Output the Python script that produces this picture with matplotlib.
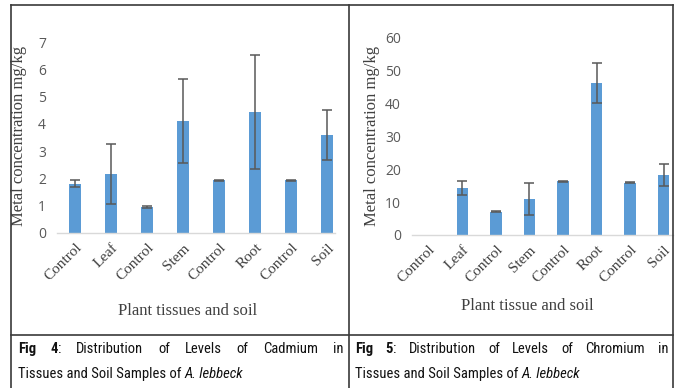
import matplotlib
matplotlib.use("Agg")
import matplotlib.pyplot as plt
from matplotlib import font_manager
from matplotlib.lines import Line2D

# ---- data ----
categories = ["Control", "Leaf", "Control", "Stem", "Control", "Root", "Control", "Soil"]

cadmium_mean = [1.81, 2.15, 0.96, 4.11, 1.93, 4.43, 1.93, 3.60]
cadmium_err = [0.14, 1.10, 0.03, 1.53, 0.03, 2.10, 0.03, 0.91]

chromium_mean = [0.0, 14.2, 7.1, 11.0, 16.3, 46.1, 15.9, 18.2]
chromium_err = [0.0, 2.2, 0.2, 4.8, 0.2, 6.1, 0.2, 3.2]

cadmium_ticks = [0, 1, 2, 3, 4, 5, 6, 7]
chromium_ticks = [0, 10, 20, 30, 40, 50, 60]

# ---- style ----
W, H = 678, 388
DPI = 100
BAR = "#5B9BD5"
ERR = "#595959"
AXIS = "#D9D9D9"
TICK = "#595959"
SERIF = "Liberation Serif"
SANS = "Open Sans"


def narrow_font():
    """Return FontProperties kwargs for the narrowest sans face available."""
    options = [
        dict(family="Liberation Sans Narrow"),
        dict(family="Arial Narrow"),
        dict(family="Roboto Condensed"),
        dict(family="Noto Sans", stretch="condensed"),
        dict(family="Open Sans", stretch="condensed"),
        dict(family="DejaVu Sans", stretch="condensed"),
    ]
    for opt in options:
        try:
            path = font_manager.findfont(font_manager.FontProperties(**opt),
                                         fallback_to_default=False)
        except Exception:
            continue
        name = path.lower()
        if "narrow" in name or "condensed" in name or "cond" in name:
            return opt
    return dict(family="Roboto")


NARROW = narrow_font()

fig = plt.figure(figsize=(W / DPI, H / DPI), dpi=DPI)


def px_axes(x0, x1, y0, y1):
    # y0 = bottom pixel row (from top), y1 = top pixel row (from top)
    return fig.add_axes([x0 / W, (H - y0) / H, (x1 - x0) / W, (y0 - y1) / H])


def bar_panel(ax, means, errs, ticks, xmax):
    x = list(range(len(categories)))
    ax.bar(x, means, width=0.34, color=BAR, zorder=2)
    shown = [i for i in x if errs[i] > 0]
    ax.errorbar([x[i] for i in shown], [means[i] for i in shown],
                yerr=[errs[i] for i in shown], fmt="none", ecolor=ERR,
                elinewidth=1.1, capsize=3.5, capthick=1.1, zorder=3)
    ax.set_xlim(-0.5, xmax)
    ax.set_ylim(ticks[0], ticks[-1])
    ax.set_yticks(ticks)
    ax.set_yticklabels([str(t) for t in ticks], fontfamily=SANS, fontsize=10,
                       color=TICK)
    ax.set_xticks(x)
    ax.set_xticklabels(categories, rotation=45, ha="right", va="top",
                       rotation_mode="anchor", fontfamily=SERIF, fontsize=11,
                       color="#404040")
    ax.tick_params(axis="both", length=0)
    ax.tick_params(axis="y", pad=8)
    ax.tick_params(axis="x", pad=6)
    for s in ("top", "right", "left"):
        ax.spines[s].set_visible(False)
    ax.spines["bottom"].set_color(AXIS)
    ax.spines["bottom"].set_linewidth(1.0)
    ax.patch.set_visible(False)


# Cadmium panel
ax1 = px_axes(57, 335, 233, 42)
bar_panel(ax1, cadmium_mean, cadmium_err, cadmium_ticks, 7.22)
fig.text(19 / W, 1 - 136 / H, "Metal concentration mg/kg", rotation=90,
         ha="center", va="center", fontfamily=SERIF, fontsize=12,
         color="#404040")
fig.text(188 / W, 1 - 311 / H, "Plant tissues and soil", ha="center",
         va="center", fontfamily=SERIF, fontsize=12, color="#404040")

# Chromium panel
ax2 = px_axes(412, 673, 235, 37)
bar_panel(ax2, chromium_mean, chromium_err, chromium_ticks, 7.28)
fig.text(372 / W, 1 - 136 / H, "Metal concentration mg/kg", rotation=90,
         ha="center", va="center", fontfamily=SERIF, fontsize=12,
         color="#404040")
fig.text(527 / W, 1 - 306 / H, "Plant tissue and soil", ha="center",
         va="center", fontfamily=SERIF, fontsize=12, color="#404040")

# ---- table frame ----
FRAME = "#3a3a3a"


def hline(y, x0, x1):
    fig.add_artist(Line2D([x0 / W, x1 / W], [1 - y / H, 1 - y / H],
                          transform=fig.transFigure, color=FRAME, lw=1.2))


def vline(x, y0, y1):
    fig.add_artist(Line2D([x / W, x / W], [1 - y0 / H, 1 - y1 / H],
                          transform=fig.transFigure, color=FRAME, lw=1.2))


hline(5, 11, 673)
hline(335, 11, 673)
vline(11, 5, 388)
vline(348.5, 5, 388)
vline(673, 5, 388)

# ---- captions ----
renderer = fig.canvas.get_renderer()
CAP_SIZE = 10.5


def make_text(x, y, text, weight, style):
    return fig.text(x, y, text, fontsize=CAP_SIZE, fontweight=weight,
                    fontstyle=style, ha="left", va="baseline",
                    color="#111111", **NARROW)


def piece_width(text, weight="normal", style="normal"):
    t = make_text(0, 0, text, weight, style)
    w = t.get_window_extent(renderer).width
    t.remove()
    return w


def draw_pieces(x, y, pieces):
    for text, weight, style in pieces:
        make_text(x / W, 1 - y / H, text, weight, style)
        x += piece_width(text, weight, style)
    return x


def justified_line(x0, x1, y, tokens):
    widths = [sum(piece_width(*p) for p in tok) for tok in tokens]
    gap = (x1 - x0 - sum(widths)) / (len(tokens) - 1)
    x = x0
    for tok, w in zip(tokens, widths):
        draw_pieces(x, y, tok)
        x += w + gap


def caption(x0, x1, num, metal):
    n = "normal"
    tokens = [[("Fig", "bold", n)], [(num, "bold", n), (":", n, n)],
              [("Distribution", n, n)], [("of", n, n)], [("Levels", n, n)],
              [("of", n, n)], [(metal, n, n)], [("in", n, n)]]
    justified_line(x0, x1, 353, tokens)
    draw_pieces(x0, 378, [("Tissues and Soil Samples of ", n, n),
                          ("A. lebbeck", n, "italic")])


caption(18, 343, "4", "Cadmium")
caption(355, 668, "5", "Chromium")

fig.savefig("out.png", dpi=DPI)
